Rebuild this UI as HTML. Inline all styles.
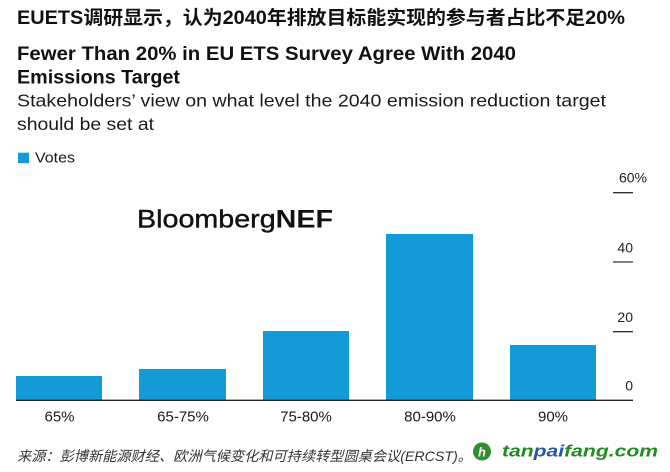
<!DOCTYPE html>
<html><head><meta charset="utf-8"><style>
html,body{margin:0;padding:0;background:#fff;}
svg{display:block;}
</style></head><body>
<svg width="670" height="472" viewBox="0 0 670 472" xmlns="http://www.w3.org/2000/svg">
<rect width="670" height="472" fill="#fff"/>
<g font-family="'Liberation Sans','Noto Sans CJK SC',sans-serif" fill="#111">
<text x="17" y="24" font-size="19" font-weight="bold" textLength="608" lengthAdjust="spacingAndGlyphs">EUETS调研显示，认为2040年排放目标能实现的参与者占比不足20%</text>
<text x="17" y="60" font-size="19" font-weight="bold" textLength="499" lengthAdjust="spacingAndGlyphs">Fewer Than 20% in EU ETS Survey Agree With 2040</text>
<text x="17" y="83.5" font-size="19" font-weight="bold" textLength="163" lengthAdjust="spacingAndGlyphs">Emissions Target</text>
<text x="17" y="106.7" font-size="17.5" fill="#1a1a1a" textLength="589" lengthAdjust="spacingAndGlyphs">Stakeholders’ view on what level the 2040 emission reduction target</text>
<text x="17" y="130" font-size="17.5" fill="#1a1a1a" textLength="137" lengthAdjust="spacingAndGlyphs">should be set at</text>
<rect x="18" y="152.7" width="11" height="10.5" fill="#149ad6"/>
<text x="35" y="162.7" font-size="15" fill="#1a1a1a" textLength="40" lengthAdjust="spacingAndGlyphs">Votes</text>

<text x="137" y="227.3" font-size="25" fill="#111" textLength="196" lengthAdjust="spacingAndGlyphs"><tspan font-weight="normal" stroke="#111" stroke-width="0.4">Bloomberg</tspan><tspan font-weight="bold">NEF</tspan></text>

<!-- bars -->
<g fill="#149ad6">
<rect x="16" y="376" width="86" height="24"/>
<rect x="139" y="369" width="87" height="31"/>
<rect x="263" y="331" width="86" height="69"/>
<rect x="386" y="234" width="87" height="166"/>
<rect x="510" y="345" width="86" height="55"/>
</g>
<line x1="16" y1="400.3" x2="633" y2="400.3" stroke="#222" stroke-width="1.4"/>

<!-- y axis -->
<g stroke="#333" stroke-width="1.3">
<line x1="613" y1="192.7" x2="633" y2="192.7"/>
<line x1="613" y1="262" x2="633" y2="262"/>
<line x1="613" y1="331.7" x2="633" y2="331.7"/>
</g>
<g font-size="14" fill="#222" text-anchor="end">
<text x="647" y="182.7">60%</text>
<text x="633" y="252.7">40</text>
<text x="633" y="322">20</text>
<text x="633" y="390.7">0</text>
</g>

<g font-size="15" fill="#1a1a1a" text-anchor="middle">
<text x="59.5" y="421.7">65%</text>
<text x="183" y="421.7">65-75%</text>
<text x="306" y="421.7">75-80%</text>
<text x="430" y="421.7">80-90%</text>
<text x="553" y="421.7">90%</text>
</g>

<text x="17" y="461" font-size="14" font-style="italic" fill="#333" textLength="455" lengthAdjust="spacingAndGlyphs">来源：彭博新能源财经、欧洲气候变化和可持续转型圆桌会议(ERCST)。</text>

<circle cx="482" cy="451.5" r="9" fill="#2f8f2f"/>
<text x="482" y="456.5" font-size="12.5" font-weight="bold" font-style="italic" fill="#fff" text-anchor="middle">h</text>
<text x="502" y="456.7" font-size="17" font-weight="bold" font-style="italic" textLength="156" lengthAdjust="spacingAndGlyphs"><tspan fill="#1e8c1e">tan</tspan><tspan fill="#2457a8">pai</tspan><tspan fill="#1e8c1e">fang.com</tspan></text>
</g>
</svg>
</body></html>
